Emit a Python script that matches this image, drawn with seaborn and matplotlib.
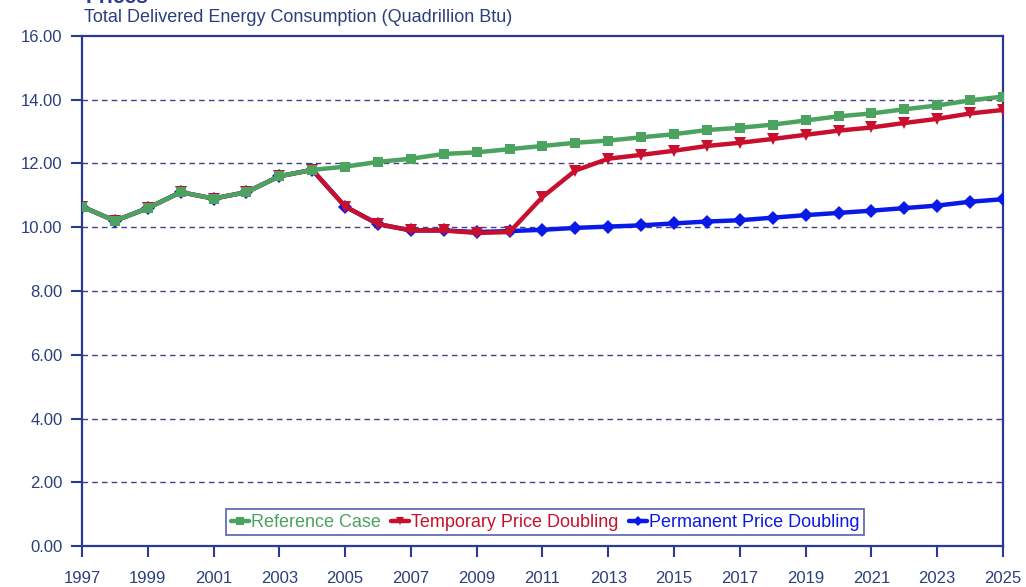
import matplotlib
matplotlib.use('Agg')
import matplotlib.pyplot as plt
import pandas as pd
import seaborn as sns

# Data
years = list(range(1997, 2026))
reference_case = [10.65, 10.2, 10.6, 11.1, 10.9, 11.1, 11.6, 11.8, 11.9, 12.05,
                  12.15, 12.3, 12.35, 12.45, 12.55, 12.65, 12.72, 12.82, 12.92, 13.05,
                  13.12, 13.22, 13.35, 13.48, 13.57, 13.7, 13.82, 13.98, 14.1]
temporary_doubling = [10.65, 10.2, 10.6, 11.1, 10.9, 11.1, 11.6, 11.8, 10.65, 10.1,
                      9.9, 9.9, 9.82, 9.85, 10.95, 11.78, 12.15, 12.27, 12.4, 12.55,
                      12.65, 12.77, 12.9, 13.03, 13.13, 13.27, 13.4, 13.57, 13.68]
permanent_doubling = [10.65, 10.2, 10.6, 11.1, 10.9, 11.1, 11.6, 11.8, 10.65, 10.1,
                      9.9, 9.9, 9.85, 9.88, 9.92, 9.98, 10.02, 10.06, 10.12, 10.18,
                      10.22, 10.3, 10.38, 10.45, 10.52, 10.6, 10.68, 10.8, 10.88]
y_ticks = [0, 2, 4, 6, 8, 10, 12, 14, 16]
x_ticks = list(range(1997, 2026, 2))

df = pd.DataFrame({'year': years,
                   'Reference Case': reference_case,
                   'Temporary Price Doubling': temporary_doubling,
                   'Permanent Price Doubling': permanent_doubling})

sns.set_style('white')
plt.rcParams['font.family'] = ['Liberation Sans', 'DejaVu Sans']

navy = '#2B3990'
grid_col = '#4A3C8C'
green = '#4CA25F'
red = '#C8102E'
blue = '#0A1AE6'

fig = plt.figure(figsize=(10.26, 5.87), dpi=100)
ax = fig.add_axes([0.0799, 0.0698, 0.8977, 0.8689])

# gridlines first so lines sit on top
for v in y_ticks[1:-1]:
    ax.axhline(v, color=grid_col, lw=1, ls=(0, (4, 3)), zorder=1)

series = [('Permanent Price Doubling', blue, 'D', 7),
          ('Temporary Price Doubling', red, 'v', 8),
          ('Reference Case', green, 's', 7)]
handles = {}
for name, col, mk, ms in series:
    sns.lineplot(data=df, x='year', y=name, ax=ax, color=col, lw=3.2,
                 marker=mk, markersize=ms, markeredgewidth=0, zorder=3)
    handles[name] = ax.lines[-1]

ax.set_xlim(1997, 2025)
ax.set_ylim(0, 16)
ax.set_xticks(x_ticks)
ax.set_yticks(y_ticks)
ax.set_yticklabels(['%.2f' % v for v in y_ticks])
ax.set_xlabel('')
ax.set_ylabel('')
ax.tick_params(axis='both', direction='out', length=8, width=1.5, color=navy,
               labelcolor='#2B3F7E', labelsize=12, bottom=True, left=True)
ax.tick_params(axis='x', pad=10)
ax.tick_params(axis='y', pad=6)
for sp in ax.spines.values():
    sp.set_visible(True)
    sp.set_color(navy)
    sp.set_linewidth(1.6)

order = ['Reference Case', 'Temporary Price Doubling', 'Permanent Price Doubling']
leg = ax.legend([handles[n] for n in order], order, loc='lower center',
                bbox_to_anchor=(0.503, 0.003), ncol=3, fontsize=13,
                handlelength=1.0, handletextpad=0.1, columnspacing=0.6,
                frameon=True, fancybox=False, borderpad=0.25, markerscale=0.8)
leg.get_frame().set_edgecolor(navy)
leg.get_frame().set_linewidth(1.2)
for txt, col in zip(leg.get_texts(), [green, red, blue]):
    txt.set_color(col)

fig.text(0.082, 0.955, 'Total Delivered Energy Consumption (Quadrillion Btu)',
         color='#2B3F7E', fontsize=13, ha='left', va='bottom')
fig.text(0.083, 0.988, 'Prices', color=navy, fontsize=15, fontweight='bold',
         ha='left', va='bottom')

fig.savefig('out.png', dpi=100)
